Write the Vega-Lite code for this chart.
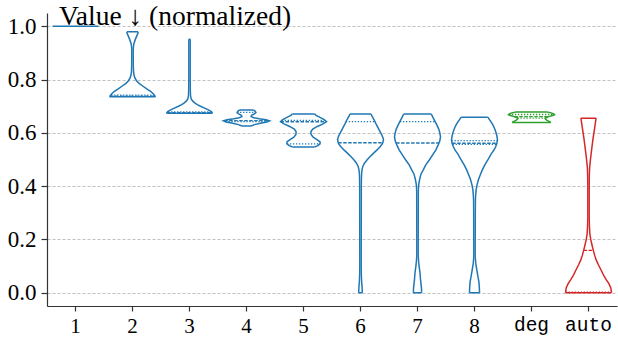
{
  "$schema": "https://vega.github.io/schema/vega-lite/v6.json",
  "width": 570,
  "height": 293,
  "autosize": {"type": "none"},
  "padding": {"left": 47, "top": 13, "right": 1, "bottom": 37},
  "background": "white",
  "config": {"view": {"stroke": null}, "font": "Liberation Serif, Times New Roman, Times, serif"},
  "title": {"text": "Value ↓ (normalized)", "anchor": "start", "frame": "group", "orient": "top", "offset": -12, "dx": 12, "dy": 27, "baseline": "alphabetic", "font": "Liberation Serif, DejaVu Serif, serif", "fontSize": 27.5, "fontWeight": "normal", "color": "black"},
  "datasets": {
    "v": [
      {"g":"2","y":0.736,"w":1.0},{"g":"2","y":0.745,"w":0.92},{"g":"2","y":0.755,"w":0.8},{"g":"2","y":0.765,"w":0.62},{"g":"2","y":0.775,"w":0.46},{"g":"2","y":0.785,"w":0.3},{"g":"2","y":0.795,"w":0.18},{"g":"2","y":0.805,"w":0.11},{"g":"2","y":0.815,"w":0.07},{"g":"2","y":0.83,"w":0.045},{"g":"2","y":0.85,"w":0.035},{"g":"2","y":0.9,"w":0.03},{"g":"2","y":0.92,"w":0.035},{"g":"2","y":0.935,"w":0.06},{"g":"2","y":0.95,"w":0.12},{"g":"2","y":0.965,"w":0.19},{"g":"2","y":0.975,"w":0.24},{"g":"2","y":0.98,"w":0.24},
      {"g":"3","y":0.674,"w":1.0},{"g":"3","y":0.68,"w":0.95},{"g":"3","y":0.687,"w":0.8},{"g":"3","y":0.693,"w":0.66},{"g":"3","y":0.7,"w":0.48},{"g":"3","y":0.706,"w":0.34},{"g":"3","y":0.712,"w":0.24},{"g":"3","y":0.72,"w":0.13},{"g":"3","y":0.728,"w":0.07},{"g":"3","y":0.74,"w":0.045},{"g":"3","y":0.76,"w":0.035},{"g":"3","y":0.8,"w":0.03},{"g":"3","y":0.951,"w":0.03},
      {"g":"4","y":0.626,"w":0.2},{"g":"4","y":0.631,"w":0.35},{"g":"4","y":0.636,"w":0.6},{"g":"4","y":0.641,"w":0.88},{"g":"4","y":0.645,"w":1.0},{"g":"4","y":0.649,"w":0.85},{"g":"4","y":0.653,"w":0.55},{"g":"4","y":0.657,"w":0.32},{"g":"4","y":0.661,"w":0.2},{"g":"4","y":0.666,"w":0.22},{"g":"4","y":0.671,"w":0.34},{"g":"4","y":0.676,"w":0.41},{"g":"4","y":0.681,"w":0.38},{"g":"4","y":0.686,"w":0.3},
      {"g":"5","y":0.547,"w":0.48},{"g":"5","y":0.552,"w":0.62},{"g":"5","y":0.559,"w":0.72},{"g":"5","y":0.566,"w":0.72},{"g":"5","y":0.574,"w":0.6},{"g":"5","y":0.584,"w":0.42},{"g":"5","y":0.594,"w":0.33},{"g":"5","y":0.604,"w":0.32},{"g":"5","y":0.614,"w":0.4},{"g":"5","y":0.624,"w":0.6},{"g":"5","y":0.634,"w":0.85},{"g":"5","y":0.642,"w":1.0},{"g":"5","y":0.65,"w":0.9},{"g":"5","y":0.658,"w":0.72},{"g":"5","y":0.666,"w":0.55},{"g":"5","y":0.671,"w":0.48},
      {"g":"6","y":0,"w":0.08},{"g":"6","y":0.02,"w":0.07},{"g":"6","y":0.04,"w":0.05},{"g":"6","y":0.07,"w":0.035},{"g":"6","y":0.1,"w":0.03},{"g":"6","y":0.4,"w":0.035},{"g":"6","y":0.43,"w":0.04},{"g":"6","y":0.449,"w":0.05},{"g":"6","y":0.46,"w":0.065},{"g":"6","y":0.474,"w":0.1},{"g":"6","y":0.487,"w":0.18},{"g":"6","y":0.499,"w":0.29},{"g":"6","y":0.511,"w":0.42},{"g":"6","y":0.524,"w":0.57},{"g":"6","y":0.536,"w":0.72},{"g":"6","y":0.549,"w":0.86},{"g":"6","y":0.56,"w":0.96},{"g":"6","y":0.575,"w":1.0},{"g":"6","y":0.59,"w":0.94},{"g":"6","y":0.605,"w":0.85},{"g":"6","y":0.62,"w":0.76},{"g":"6","y":0.635,"w":0.67},{"g":"6","y":0.65,"w":0.585},{"g":"6","y":0.665,"w":0.49},{"g":"6","y":0.671,"w":0.46},
      {"g":"7","y":0,"w":0.18},{"g":"7","y":0.02,"w":0.17},{"g":"7","y":0.05,"w":0.13},{"g":"7","y":0.074,"w":0.11},{"g":"7","y":0.1,"w":0.07},{"g":"7","y":0.12,"w":0.045},{"g":"7","y":0.14,"w":0.03},{"g":"7","y":0.2,"w":0.03},{"g":"7","y":0.38,"w":0.035},{"g":"7","y":0.399,"w":0.045},{"g":"7","y":0.41,"w":0.06},{"g":"7","y":0.424,"w":0.09},{"g":"7","y":0.445,"w":0.15},{"g":"7","y":0.461,"w":0.25},{"g":"7","y":0.48,"w":0.36},{"g":"7","y":0.499,"w":0.52},{"g":"7","y":0.52,"w":0.68},{"g":"7","y":0.536,"w":0.8},{"g":"7","y":0.555,"w":0.9},{"g":"7","y":0.57,"w":0.97},{"g":"7","y":0.585,"w":1.0},{"g":"7","y":0.6,"w":0.97},{"g":"7","y":0.615,"w":0.92},{"g":"7","y":0.63,"w":0.84},{"g":"7","y":0.645,"w":0.75},{"g":"7","y":0.66,"w":0.66},{"g":"7","y":0.671,"w":0.6},
      {"g":"8","y":0,"w":0.22},{"g":"8","y":0.02,"w":0.21},{"g":"8","y":0.042,"w":0.19},{"g":"8","y":0.06,"w":0.15},{"g":"8","y":0.086,"w":0.1},{"g":"8","y":0.11,"w":0.055},{"g":"8","y":0.136,"w":0.03},{"g":"8","y":0.174,"w":0.03},{"g":"8","y":0.3,"w":0.035},{"g":"8","y":0.349,"w":0.04},{"g":"8","y":0.365,"w":0.05},{"g":"8","y":0.386,"w":0.07},{"g":"8","y":0.405,"w":0.11},{"g":"8","y":0.424,"w":0.17},{"g":"8","y":0.44,"w":0.24},{"g":"8","y":0.461,"w":0.34},{"g":"8","y":0.48,"w":0.45},{"g":"8","y":0.499,"w":0.58},{"g":"8","y":0.52,"w":0.72},{"g":"8","y":0.536,"w":0.85},{"g":"8","y":0.548,"w":0.92},{"g":"8","y":0.56,"w":0.97},{"g":"8","y":0.574,"w":1.0},{"g":"8","y":0.59,"w":0.97},{"g":"8","y":0.605,"w":0.92},{"g":"8","y":0.619,"w":0.86},{"g":"8","y":0.63,"w":0.8},{"g":"8","y":0.641,"w":0.72},{"g":"8","y":0.65,"w":0.65},{"g":"8","y":0.659,"w":0.58},
      {"g":"deg","y":0.639,"w":0.84},{"g":"deg","y":0.643,"w":0.76},{"g":"deg","y":0.648,"w":0.66},{"g":"deg","y":0.653,"w":0.6},{"g":"deg","y":0.657,"w":0.62},{"g":"deg","y":0.661,"w":0.75},{"g":"deg","y":0.665,"w":0.92},{"g":"deg","y":0.668,"w":1.0},{"g":"deg","y":0.672,"w":0.95},{"g":"deg","y":0.675,"w":0.85},{"g":"deg","y":0.678,"w":0.68},
      {"g":"auto","y":0,"w":1.0},{"g":"auto","y":0.018,"w":0.97},{"g":"auto","y":0.035,"w":0.88},{"g":"auto","y":0.049,"w":0.77},{"g":"auto","y":0.065,"w":0.66},{"g":"auto","y":0.086,"w":0.54},{"g":"auto","y":0.105,"w":0.43},{"g":"auto","y":0.124,"w":0.33},{"g":"auto","y":0.14,"w":0.27},{"g":"auto","y":0.159,"w":0.21},{"g":"auto","y":0.18,"w":0.15},{"g":"auto","y":0.199,"w":0.1},{"g":"auto","y":0.22,"w":0.06},{"g":"auto","y":0.249,"w":0.04},{"g":"auto","y":0.28,"w":0.03},{"g":"auto","y":0.4,"w":0.03},{"g":"auto","y":0.44,"w":0.035},{"g":"auto","y":0.47,"w":0.05},{"g":"auto","y":0.5,"w":0.085},{"g":"auto","y":0.54,"w":0.14},{"g":"auto","y":0.58,"w":0.2},{"g":"auto","y":0.62,"w":0.27},{"g":"auto","y":0.655,"w":0.33}
    ],
    "s": [
      {"g":"1","q":"t","k":"e","y":1.0,"w":-1},{"g":"1","q":"t","k":"e","y":1.0,"w":1},
      {"g":"2","q":"b","k":"e","y":0.736,"w":-1},{"g":"2","q":"b","k":"e","y":0.736,"w":1},
      {"g":"2","q":"t","k":"e","y":0.98,"w":-0.24},{"g":"2","q":"t","k":"e","y":0.98,"w":0.24},
      {"g":"2","q":"m","k":"m","y":0.738,"w":-0.98},{"g":"2","q":"m","k":"m","y":0.738,"w":0.98},
      {"g":"2","q":"q3","k":"q","y":0.742,"w":-0.93},{"g":"2","q":"q3","k":"q","y":0.742,"w":0.93},
      {"g":"3","q":"b","k":"e","y":0.674,"w":-1},{"g":"3","q":"b","k":"e","y":0.674,"w":1},
      {"g":"3","q":"t","k":"e","y":0.951,"w":-0.03},{"g":"3","q":"t","k":"e","y":0.951,"w":0.03},
      {"g":"3","q":"m","k":"m","y":0.676,"w":-0.97},{"g":"3","q":"m","k":"m","y":0.676,"w":0.97},
      {"g":"3","q":"q3","k":"q","y":0.679,"w":-0.93},{"g":"3","q":"q3","k":"q","y":0.679,"w":0.93},
      {"g":"4","q":"b","k":"e","y":0.626,"w":-0.2},{"g":"4","q":"b","k":"e","y":0.626,"w":0.2},
      {"g":"4","q":"t","k":"e","y":0.686,"w":-0.3},{"g":"4","q":"t","k":"e","y":0.686,"w":0.3},
      {"g":"4","q":"m","k":"m","y":0.646,"w":-0.97},{"g":"4","q":"m","k":"m","y":0.646,"w":0.97},
      {"g":"4","q":"q1","k":"q","y":0.642,"w":-0.92},{"g":"4","q":"q1","k":"q","y":0.642,"w":0.92},
      {"g":"4","q":"q3","k":"q","y":0.677,"w":-0.41},{"g":"4","q":"q3","k":"q","y":0.677,"w":0.41},
      {"g":"5","q":"b","k":"e","y":0.547,"w":-0.48},{"g":"5","q":"b","k":"e","y":0.547,"w":0.48},
      {"g":"5","q":"t","k":"e","y":0.671,"w":-0.48},{"g":"5","q":"t","k":"e","y":0.671,"w":0.48},
      {"g":"5","q":"m","k":"m","y":0.642,"w":-1.0},{"g":"5","q":"m","k":"m","y":0.642,"w":1.0},
      {"g":"5","q":"q3","k":"q","y":0.647,"w":-0.95},{"g":"5","q":"q3","k":"q","y":0.647,"w":0.95},
      {"g":"5","q":"q1","k":"q","y":0.559,"w":-0.72},{"g":"5","q":"q1","k":"q","y":0.559,"w":0.72},
      {"g":"6","q":"b","k":"e","y":0,"w":-0.08},{"g":"6","q":"b","k":"e","y":0,"w":0.08},
      {"g":"6","q":"t","k":"e","y":0.671,"w":-0.46},{"g":"6","q":"t","k":"e","y":0.671,"w":0.46},
      {"g":"6","q":"m","k":"m","y":0.563,"w":-0.97},{"g":"6","q":"m","k":"m","y":0.563,"w":0.97},
      {"g":"6","q":"q3","k":"q","y":0.642,"w":-0.64},{"g":"6","q":"q3","k":"q","y":0.642,"w":0.64},
      {"g":"7","q":"b","k":"e","y":0,"w":-0.18},{"g":"7","q":"b","k":"e","y":0,"w":0.18},
      {"g":"7","q":"t","k":"e","y":0.671,"w":-0.6},{"g":"7","q":"t","k":"e","y":0.671,"w":0.6},
      {"g":"7","q":"m","k":"m","y":0.562,"w":-0.93},{"g":"7","q":"m","k":"m","y":0.562,"w":0.93},
      {"g":"7","q":"q3","k":"q","y":0.642,"w":-0.76},{"g":"7","q":"q3","k":"q","y":0.642,"w":0.76},
      {"g":"8","q":"b","k":"e","y":0,"w":-0.22},{"g":"8","q":"b","k":"e","y":0,"w":0.22},
      {"g":"8","q":"t","k":"e","y":0.659,"w":-0.58},{"g":"8","q":"t","k":"e","y":0.659,"w":0.58},
      {"g":"8","q":"m","k":"m","y":0.561,"w":-0.97},{"g":"8","q":"m","k":"m","y":0.561,"w":0.97},
      {"g":"8","q":"q1","k":"q","y":0.557,"w":-0.95},{"g":"8","q":"q1","k":"q","y":0.557,"w":0.95},
      {"g":"8","q":"q3","k":"q","y":0.571,"w":-1.0},{"g":"8","q":"q3","k":"q","y":0.571,"w":1.0},
      {"g":"deg","q":"b","k":"e","y":0.639,"w":-0.84},{"g":"deg","q":"b","k":"e","y":0.639,"w":0.84},
      {"g":"deg","q":"t","k":"e","y":0.678,"w":-0.68},{"g":"deg","q":"t","k":"e","y":0.678,"w":0.68},
      {"g":"deg","q":"m","k":"m","y":0.661,"w":-0.75},{"g":"deg","q":"m","k":"m","y":0.661,"w":0.75},
      {"g":"deg","q":"q1","k":"q","y":0.655,"w":-0.61},{"g":"deg","q":"q1","k":"q","y":0.655,"w":0.61},
      {"g":"deg","q":"q3","k":"q","y":0.669,"w":-0.98},{"g":"deg","q":"q3","k":"q","y":0.669,"w":0.98},
      {"g":"auto","q":"b","k":"e","y":0,"w":-1},{"g":"auto","q":"b","k":"e","y":0,"w":1},
      {"g":"auto","q":"t","k":"e","y":0.655,"w":-0.33},{"g":"auto","q":"t","k":"e","y":0.655,"w":0.33},
      {"g":"auto","q":"m","k":"m","y":0.159,"w":-0.21},{"g":"auto","q":"m","k":"m","y":0.159,"w":0.21},
      {"g":"auto","q":"q1","k":"q","y":0.002,"w":-0.99},{"g":"auto","q":"q1","k":"q","y":0.002,"w":0.99}
    ]
  },
  "encoding": {
    "x": {"field": "g", "type": "nominal", "sort": ["1","2","3","4","5","6","7","8","deg","auto"], "scale": {"domain": ["1","2","3","4","5","6","7","8","deg","auto"], "paddingInner": 0, "paddingOuter": 0},
      "axis": {"title": null, "labelAngle": 0, "grid": false, "domainColor": "#333333", "domainWidth": 1.2, "tickColor": "#333333", "tickWidth": 1.2, "tickSize": 5, "labelPadding": 4, "labelColor": "black",
        "labelFont": {"condition": {"test": "datum.value === 'deg' || datum.value === 'auto'", "value": "Liberation Mono, Courier New, monospace"}, "value": "Liberation Serif, Times New Roman, Times, serif"},
        "labelFontSize": {"condition": {"test": "datum.value === 'deg' || datum.value === 'auto'", "value": 19.5}, "value": 21}}},
    "y": {"field": "y", "type": "quantitative", "scale": {"domain": [-0.05, 1.05], "nice": false, "zero": false},
      "axis": {"title": null, "values": [0, 0.2, 0.4, 0.6, 0.8, 1.0], "format": ".1f", "grid": true, "gridDash": [3, 2], "gridColor": "#b0b0b0", "gridWidth": 0.8, "domainColor": "#333333", "domainWidth": 1.2, "tickColor": "#333333", "tickWidth": 1.2, "tickSize": 6, "labelPadding": 5, "labelFont": "Liberation Serif, Times New Roman, Times, serif", "labelFontSize": 23, "labelColor": "black"}},
    "color": {"field": "g", "type": "nominal", "legend": null, "scale": {"domain": ["1","2","3","4","5","6","7","8","deg","auto"], "range": ["#1f77b4","#1f77b4","#1f77b4","#1f77b4","#1f77b4","#1f77b4","#1f77b4","#1f77b4","#2ca02c","#d62728"]}}
  },
  "layer": [
    {"data": {"name": "v"}, "mark": {"type": "line", "strokeWidth": 1.5},
      "encoding": {"xOffset": {"field": "w", "type": "quantitative", "scale": {"domain": [-1, 1], "range": [5.5, 51.5]}}, "order": {"field": "y", "type": "quantitative"}}},
    {"data": {"name": "v"}, "mark": {"type": "line", "strokeWidth": 1.5},
      "encoding": {"xOffset": {"field": "w", "type": "quantitative", "scale": {"domain": [-1, 1], "range": [51.5, 5.5]}}, "order": {"field": "y", "type": "quantitative"}}},
    {"data": {"name": "s"}, "mark": {"type": "line"},
      "encoding": {"xOffset": {"field": "w", "type": "quantitative", "scale": {"domain": [-1, 1], "range": [5.5, 51.5]}},
        "detail": {"field": "q"},
        "order": {"field": "w", "type": "quantitative"},
        "strokeDash": {"field": "k", "type": "nominal", "legend": null, "scale": {"domain": ["e","m","q"], "range": [[1,0],[3.5,1.5],[1.3,1.7]]}},
        "strokeWidth": {"field": "k", "type": "nominal", "legend": null, "scale": {"domain": ["e","m","q"], "range": [1.5,1.3,1.3]}}}}
  ],
  "resolve": {"scale": {"xOffset": "independent"}}
}
